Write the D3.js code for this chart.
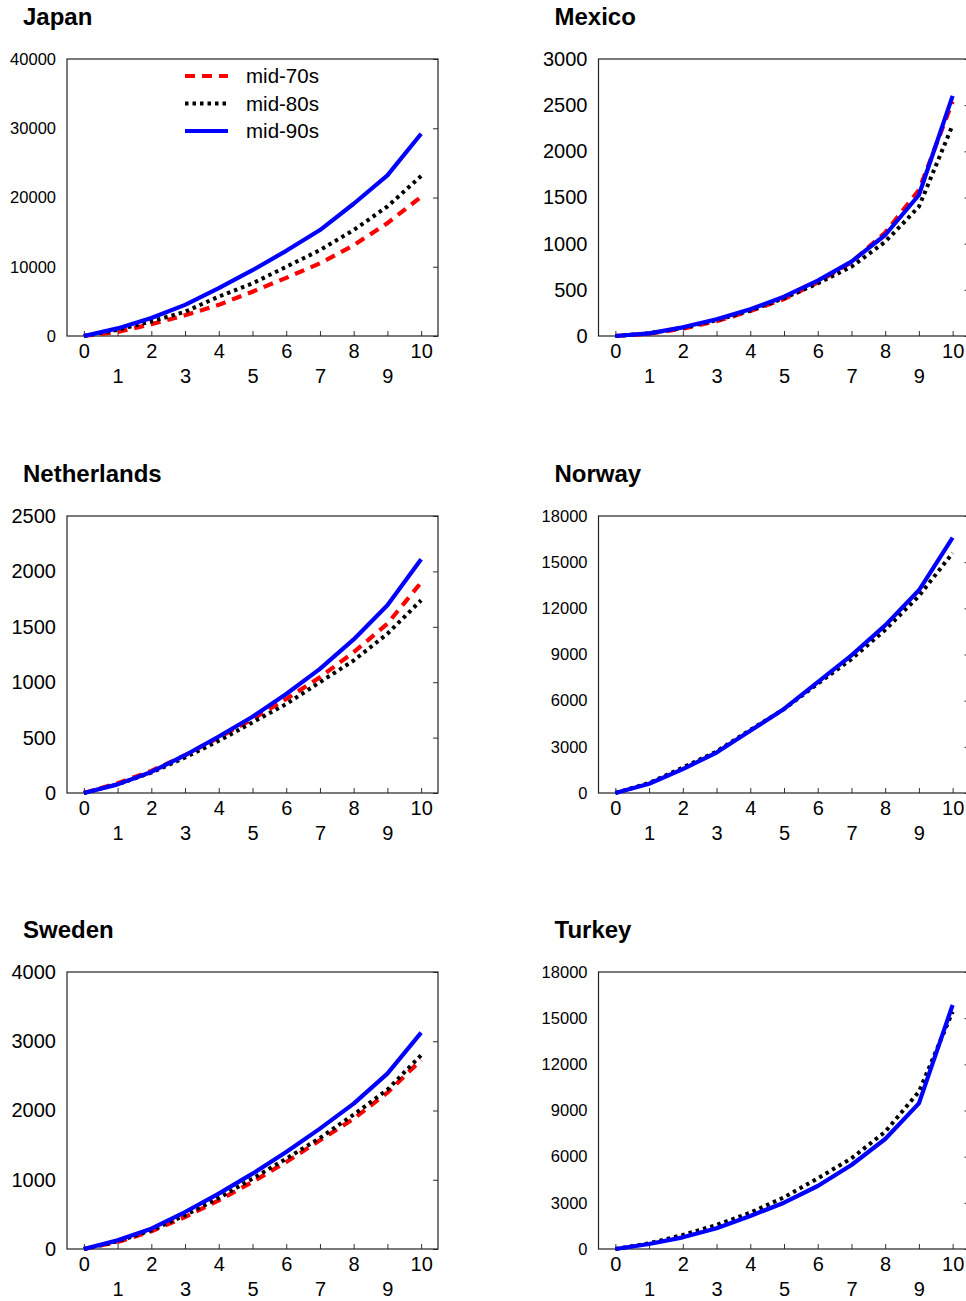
<!DOCTYPE html>
<html>
<head>
<meta charset="utf-8">
<script src="https://cdn.jsdelivr.net/npm/d3@7"></script>
<style>
  html, body { margin: 0; padding: 0; background: #fff; }
  svg { display: block; font-family: "Liberation Sans", Arial, sans-serif; }
</style>
</head>
<body>
<svg id="chart" width="966" height="1301"></svg>
<script>
// Horizon index (x) shared by all panels
const xValues = [0, 1, 2, 3, 4, 5, 6, 7, 8, 9, 10];

// Series labels
const seriesNames = ["mid-70s", "mid-80s", "mid-90s"];

// Japan
const japan70 = [0, 600, 1700, 3000, 4500, 6400, 8400, 10500, 13100, 16300, 20100];
const japan80 = [0, 900, 2100, 3500, 5700, 7600, 10000, 12400, 15300, 18700, 23100];
const japan90 = [0, 1100, 2600, 4500, 6900, 9500, 12300, 15300, 19100, 23200, 29200];
const japanTicks = [0, 10000, 20000, 30000, 40000];

// Mexico
const mexico70 = [0, 25, 80, 160, 270, 400, 580, 800, 1120, 1580, 2540];
const mexico80 = [0, 30, 90, 170, 275, 410, 570, 750, 1020, 1400, 2285];
const mexico90 = [0, 29, 94, 181, 289, 426, 600, 805, 1094, 1527, 2600];
const mexicoTicks = [0, 500, 1000, 1500, 2000, 2500, 3000];

// Netherlands
const netherlands70 = [0, 88, 199, 341, 501, 667, 849, 1045, 1271, 1528, 1900];
const netherlands80 = [0, 78, 184, 320, 471, 637, 803, 1000, 1196, 1437, 1740];
const netherlands90 = [0, 78, 190, 341, 510, 688, 894, 1120, 1386, 1694, 2110];
const netherlandsTicks = [0, 500, 1000, 1500, 2000, 2500];

// Norway (no mid-70s series)
const norway80 = [0, 650, 1650, 2700, 4100, 5450, 7100, 8700, 10600, 12800, 15600];
const norway90 = [0, 600, 1550, 2630, 4040, 5460, 7200, 8940, 10890, 13170, 16590];
const norwayTicks = [0, 3000, 6000, 9000, 12000, 15000, 18000];

// Sweden
const sweden70 = [0, 101, 255, 462, 703, 968, 1256, 1569, 1882, 2257, 2730];
const sweden80 = [0, 110, 270, 486, 736, 1016, 1304, 1603, 1940, 2300, 2800];
const sweden90 = [0, 125, 293, 534, 799, 1088, 1401, 1738, 2099, 2532, 3124];
const swedenTicks = [0, 1000, 2000, 3000, 4000];

// Turkey (no mid-70s series)
const turkey80 = [0, 370, 910, 1560, 2360, 3360, 4590, 5890, 7620, 10220, 15420];
const turkey90 = [0, 325, 758, 1343, 2144, 3010, 4094, 5458, 7148, 9466, 15855];
const turkeyTicks = [0, 3000, 6000, 9000, 12000, 15000, 18000];

const panels = [
  { name: "Japan",       col: 0, row: 0, series: [japan70, japan80, japan90], ticks: japanTicks, legend: true },
  { name: "Mexico",      col: 1, row: 0, series: [mexico70, mexico80, mexico90], ticks: mexicoTicks },
  { name: "Netherlands", col: 0, row: 1, series: [netherlands70, netherlands80, netherlands90], ticks: netherlandsTicks },
  { name: "Norway",      col: 1, row: 1, series: [null, norway80, norway90], ticks: norwayTicks },
  { name: "Sweden",      col: 0, row: 2, series: [sweden70, sweden80, sweden90], ticks: swedenTicks },
  { name: "Turkey",      col: 1, row: 2, series: [null, turkey80, turkey90], ticks: turkeyTicks }
];

// Line styles for the three periods
const styles = [
  { color: "#ff0000", width: 4.2, dash: "10,7" },
  { color: "#000000", width: 4,   dash: "3.5,4" },
  { color: "#0000ff", width: 4.2, dash: null }
];

// Layout
const colLeft = [67, 598.5];
const rowTop = [59, 516, 972];
const plotW = 371;
const plotH = 277;

const svg = d3.select("#chart");

panels.forEach(p => {
  const left = colLeft[p.col];
  const top = rowTop[p.row];
  const g = svg.append("g").attr("transform", `translate(${left},${top})`);

  const x = d3.scaleLinear().domain([-0.5, 10.5]).range([0, plotW]);
  const yMax = d3.max(p.ticks);
  const y = d3.scaleLinear().domain([0, yMax]).range([plotH, 0]);

  // Title
  svg.append("text")
    .attr("x", left - 44)
    .attr("y", top - 34)
    .attr("font-size", 24)
    .attr("font-weight", "bold")
    .attr("fill", "#000")
    .text(p.name);

  const longLabels = String(yMax).length >= 5;
  const yFont = longLabels ? 16.5 : 20;

  // Left axis: labels only
  const yLeft = g.append("g")
    .call(d3.axisLeft(y).tickValues(p.ticks).tickSize(0).tickPadding(11).tickFormat(d3.format("d")));
  yLeft.select(".domain").remove();
  yLeft.selectAll("text").attr("font-size", yFont).attr("fill", "#000")
    .attr("font-family", "'Liberation Sans', Arial, sans-serif");

  // Right axis: inward ticks
  const yRight = g.append("g")
    .attr("transform", `translate(${plotW},0)`)
    .call(d3.axisRight(y).tickValues(p.ticks).tickSize(-5).tickFormat(""));
  yRight.select(".domain").remove();
  yRight.selectAll("line").attr("stroke", "#333");

  // Bottom axis: inward ticks, labels alternate between two rows
  const xAxis = g.append("g")
    .attr("transform", `translate(0,${plotH})`)
    .call(d3.axisBottom(x).tickValues(xValues).tickSize(-5).tickPadding(9).tickFormat(d3.format("d")));
  xAxis.select(".domain").remove();
  xAxis.selectAll("line").attr("stroke", "#333");
  xAxis.selectAll("text")
    .attr("font-size", 20)
    .attr("fill", "#000")
    .attr("font-family", "'Liberation Sans', Arial, sans-serif")
    .attr("y", d => d % 2 === 0 ? 8 : 33);

  // Frame
  g.append("rect")
    .attr("x", 0).attr("y", 0)
    .attr("width", plotW).attr("height", plotH)
    .attr("fill", "none")
    .attr("stroke", "#222")
    .attr("stroke-width", 1.2);

  // Series lines
  const line = d3.line()
    .x((d, i) => x(xValues[i]))
    .y(d => y(d));

  p.series.forEach((values, si) => {
    if (!values) return;
    const s = styles[si];
    g.append("path")
      .datum(values)
      .attr("d", line)
      .attr("fill", "none")
      .attr("stroke", s.color)
      .attr("stroke-width", s.width)
      .attr("stroke-dasharray", s.dash)
      .attr("stroke-linejoin", "round");
  });

  // Legend
  if (p.legend) {
    const lg = svg.append("g").attr("transform", "translate(185,76)");
    seriesNames.forEach((name, i) => {
      const s = styles[i];
      const yy = i * 27.5;
      lg.append("line")
        .attr("x1", 0).attr("x2", 43)
        .attr("y1", yy).attr("y2", yy)
        .attr("stroke", s.color)
        .attr("stroke-width", s.width)
        .attr("stroke-dasharray", s.dash);
      lg.append("text")
        .attr("x", 61).attr("y", yy)
        .attr("dy", "0.35em")
        .attr("font-size", 20.5)
        .attr("fill", "#000")
        .text(name);
    });
  }
});
</script>
</body>
</html>
